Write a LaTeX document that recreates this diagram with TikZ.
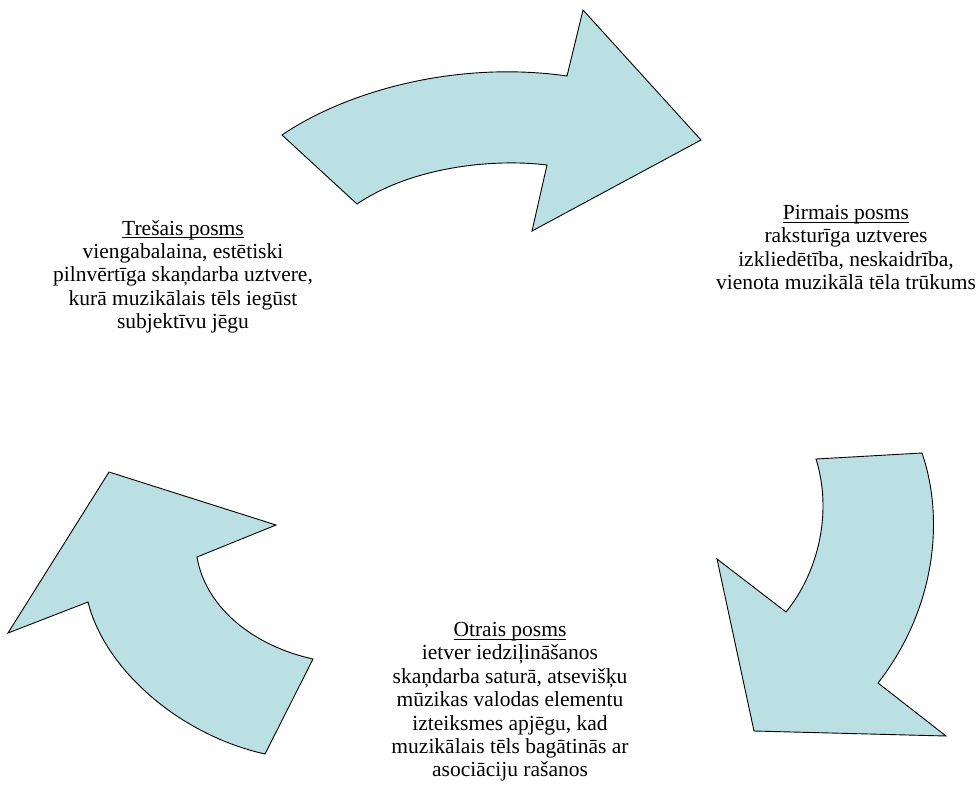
\documentclass[tikz,border=0pt]{standalone}
\usepackage{fontspec}
\setmainfont{Liberation Serif}
\definecolor{arrowfill}{RGB}{187,224,227}
% underlined heading with the rule set close under the baseline
\newcommand{\stagehead}[1]{\setbox0\hbox{#1}\rlap{\rule[-3pt]{\wd0}{0.9pt}}\box0}
\begin{document}
\begin{tikzpicture}[x=1pt,y=-1pt,
  cyclearrow/.style={fill=arrowfill,draw=black,line width=0.9pt,line join=miter},
  stagetext/.style={align=center,inner sep=0pt,anchor=north,
    font=\fontsize{21.5}{23.4}\selectfont}]
\useasboundingbox (0,0) rectangle (977,793);

% upper arrow, pointing right
\draw[cyclearrow] (282,135) .. controls (345,92) and (455,60) .. (567,76)
  -- (583,10) -- (701,140) -- (532,231) -- (547,165)
  .. controls (490,158) and (410,168) .. (357,204) -- cycle;

% right arrow, pointing down
\draw[cyclearrow] (816,459) -- (922,453)
  .. controls (945,520) and (935,610) .. (878,683)
  -- (946,736) -- (754,731) -- (717,559) -- (786,612)
  .. controls (820,570) and (832,510) .. (816,459) -- cycle;

% left arrow, pointing up
\draw[cyclearrow] (265,754) -- (313,659)
  .. controls (250,645) and (205,605) .. (197,557)
  -- (276,525) -- (109,472) -- (8,633) -- (88,602)
  .. controls (105,670) and (180,735) .. (265,754) -- cycle;

% stage descriptions
\node[stagetext] (first) at (846,205) {\stagehead{Pirmais posms}\\
  raksturīga uztveres\\
  izkliedētība, neskaidrība,\\
  vienota muzikālā tēla trūkums};

\node[stagetext] (second) at (510,622) {\stagehead{Otrais posms}\\
  ietver iedziļināšanos\\
  skaņdarba saturā, atsevišķu\\
  mūzikas valodas elementu\\
  izteiksmes apjēgu, kad\\
  muzikālais tēls bagātinās ar\\
  asociāciju rašanos};

\node[stagetext] (third) at (183,220) {\stagehead{Trešais posms}\\
  viengabalaina, estētiski\\
  pilnvērtīga skaņdarba uztvere,\\
  kurā muzikālais tēls iegūst\\
  subjektīvu jēgu};
\end{tikzpicture}
\end{document}
